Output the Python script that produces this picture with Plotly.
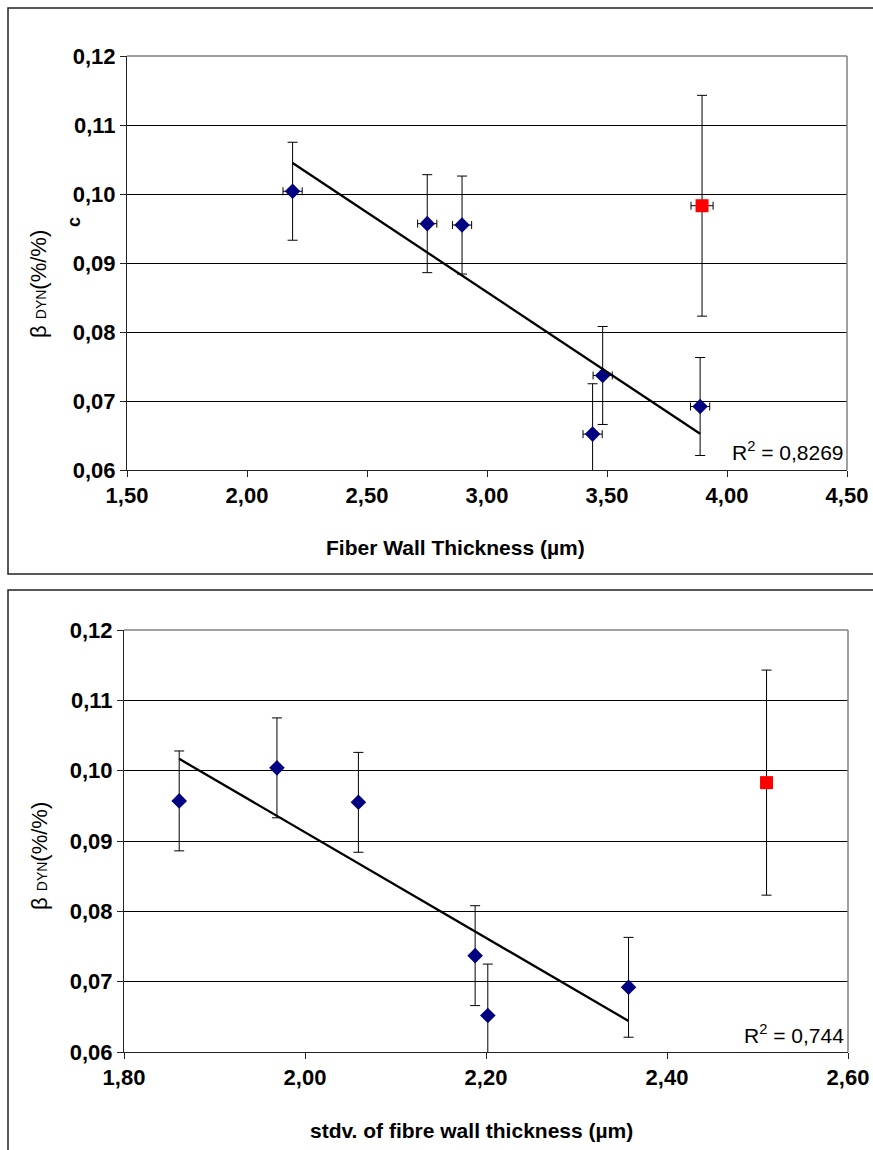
import numpy as np
import plotly.graph_objects as go

# ---------------- data ----------------
beta = [0.1004, 0.0957, 0.0955, 0.0737, 0.0652, 0.0692]
beta_err = [0.0071, 0.0071, 0.0071, 0.0071, 0.0073, 0.0071]
wall_thickness = [2.19, 2.751, 2.896, 3.482, 3.44, 3.888]
wall_thickness_err = [0.04, 0.04, 0.04, 0.04, 0.04, 0.04]
wall_stdv = [1.969, 1.861, 2.059, 2.188, 2.202, 2.3575]

outlier_beta = [0.0983]
outlier_beta_err = [0.0160]
outlier_wall = [3.896]
outlier_wall_err = [0.046]
outlier_stdv = [2.510]

r2_top = "0,8269"
r2_bottom = "0,744"

x_title_top = "Fiber Wall Thickness (µm)"
x_title_bottom = "stdv. of fibre wall thickness (µm)"
y_title = "β <span style='font-size:14px'>DYN</span>(%/%)"

# ---------------- layout helpers ----------------
W, H = 873, 1150


def px(x):
    return x / W


def py(y):
    return 1 - y / H


FONT = "Liberation Sans, Arial, sans-serif"
NAVY = "#000080"

fig = go.Figure()

# top chart
fig.add_trace(go.Scatter(
    x=wall_thickness, y=beta, mode="markers",
    marker=dict(symbol="diamond", size=12, color=NAVY),
    error_y=dict(type="data", array=beta_err, color="black", thickness=1, width=5),
    error_x=dict(type="data", array=wall_thickness_err, color="black", thickness=1, width=4),
    xaxis="x", yaxis="y", showlegend=False))
fig.add_trace(go.Scatter(
    x=outlier_wall, y=outlier_beta, mode="markers",
    marker=dict(symbol="square", size=13, color="#ff0000"),
    error_y=dict(type="data", array=outlier_beta_err, color="black", thickness=1, width=5),
    error_x=dict(type="data", array=outlier_wall_err, color="black", thickness=1, width=4),
    xaxis="x", yaxis="y", showlegend=False))
c1 = np.polyfit(wall_thickness, beta, 1)
xt1 = np.array([min(wall_thickness), max(wall_thickness)])
fig.add_trace(go.Scatter(x=xt1, y=np.polyval(c1, xt1), mode="lines",
                         line=dict(color="black", width=2.3),
                         xaxis="x", yaxis="y", showlegend=False))

# bottom chart
fig.add_trace(go.Scatter(
    x=wall_stdv, y=beta, mode="markers",
    marker=dict(symbol="diamond", size=12, color=NAVY),
    error_y=dict(type="data", array=beta_err, color="black", thickness=1, width=5),
    xaxis="x2", yaxis="y2", showlegend=False))
fig.add_trace(go.Scatter(
    x=outlier_stdv, y=outlier_beta, mode="markers",
    marker=dict(symbol="square", size=13, color="#ff0000"),
    error_y=dict(type="data", array=outlier_beta_err, color="black", thickness=1, width=5),
    xaxis="x2", yaxis="y2", showlegend=False))
c2 = np.polyfit(wall_stdv, beta, 1)
xt2 = np.array([min(wall_stdv), max(wall_stdv)])
fig.add_trace(go.Scatter(x=xt2, y=np.polyval(c2, xt2), mode="lines",
                         line=dict(color="black", width=2.3),
                         xaxis="x2", yaxis="y2", showlegend=False))

tickfont = dict(family=FONT, size=22, color="black", weight="bold")

yax = dict(range=[0.06, 0.12], dtick=0.01, tickformat=".2f", showgrid=True,
           gridcolor="black", gridwidth=1, showline=True, linecolor="#222",
           linewidth=1, ticks="outside", ticklen=6, tickcolor="#222",
           tickfont=tickfont, zeroline=False, fixedrange=True, automargin=False)
xax = dict(showgrid=False, showline=True, linecolor="#222", linewidth=1,
           ticks="outside", ticklen=6, tickcolor="#222", tickfont=tickfont,
           zeroline=False, tickformat=".2f", fixedrange=True, automargin=False)

fig.update_layout(
    template="none",
    width=W, height=H, autosize=False,
    margin=dict(l=0, r=0, t=0, b=0, pad=0, autoexpand=False),
    paper_bgcolor="white", plot_bgcolor="white",
    separators=", ",
    xaxis=dict(xax, domain=[px(127), px(847)], range=[1.5, 4.5], dtick=0.5, anchor="y"),
    yaxis=dict(yax, domain=[py(470), py(56)], anchor="x"),
    xaxis2=dict(xax, domain=[px(124), px(848)], range=[1.8, 2.6], dtick=0.2, anchor="y2"),
    yaxis2=dict(yax, domain=[py(1052), py(630)], anchor="x2"),
)

shapes = []
# outer chart boxes
shapes.append(dict(type="rect", xref="paper", yref="paper",
                   x0=px(8), x1=1.02, y0=py(574), y1=py(8),
                   line=dict(color="#222", width=1.5)))
shapes.append(dict(type="rect", xref="paper", yref="paper",
                   x0=px(8), x1=1.02, y0=-0.02, y1=py(590),
                   line=dict(color="#222", width=1.5)))
# plot-area borders (grey top/right)
for xr, yr in (("x", "y"), ("x2", "y2")):
    shapes.append(dict(type="line", xref=f"{xr} domain", yref=f"{yr} domain",
                       x0=0, x1=1, y0=1, y1=1, line=dict(color="#808080", width=1.5)))
    shapes.append(dict(type="line", xref=f"{xr} domain", yref=f"{yr} domain",
                       x0=1, x1=1, y0=0, y1=1, line=dict(color="#808080", width=1.5)))
fig.update_layout(shapes=shapes)

title_font = dict(family=FONT, size=21, color="black", weight="bold")
ytitle_font = dict(family="Liberation Sans, Arial, sans-serif", size=22, color="black")
ann = [
    dict(text=x_title_top, x=px(455), y=py(547), xref="paper", yref="paper",
         showarrow=False, font=title_font, xanchor="center", yanchor="middle"),
    dict(text=x_title_bottom, x=px(471), y=py(1130), xref="paper", yref="paper",
         showarrow=False, font=title_font, xanchor="center", yanchor="middle"),
    dict(text=y_title, x=px(39), y=py(284), xref="paper", yref="paper",
         showarrow=False, textangle=-90, font=ytitle_font,
         xanchor="center", yanchor="middle"),
    dict(text=y_title, x=px(39), y=py(856), xref="paper", yref="paper",
         showarrow=False, textangle=-90, font=ytitle_font,
         xanchor="center", yanchor="middle"),
    dict(text="c", x=px(74), y=py(222), xref="paper", yref="paper",
         showarrow=False, textangle=-90,
         font=dict(family="Liberation Sans", size=18, color="black", weight="bold"),
         xanchor="center", yanchor="middle"),
    dict(text="R<sup>2</sup> = " + r2_top, x=px(846), y=py(451), xref="paper", yref="paper",
         showarrow=False, font=dict(family=FONT, size=21, color="black"),
         xanchor="right", yanchor="middle"),
    dict(text="R<sup>2</sup> = " + r2_bottom, x=px(846), y=py(1034), xref="paper", yref="paper",
         showarrow=False, font=dict(family=FONT, size=21, color="black"),
         xanchor="right", yanchor="middle"),
]
fig.update_layout(annotations=ann)

fig.write_html(
    "out.html",
    config={"displayModeBar": False},
    post_script="document.body.style.margin='0';"
                "document.body.style.overflow='hidden';"
                "document.documentElement.style.overflow='hidden';",
)
